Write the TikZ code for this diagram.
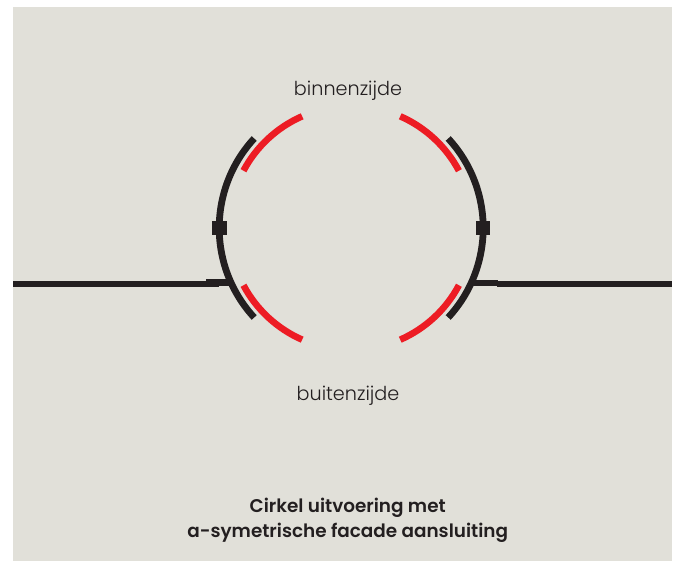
\documentclass[tikz,border=0pt]{standalone}
\usepackage{fontspec}
\setmainfont[BoldFont={Poppins SemiBold}]{Poppins Light}
\definecolor{bgc}{HTML}{E1E0D9}
\definecolor{inkc}{HTML}{231F20}
\definecolor{redc}{HTML}{ED1C24}
\tikzset{
  x=1pt,y=1pt,
  blackarc/.style={draw=inkc,line width=6.8pt},
  redarc/.style={draw=redc,line width=6.6pt},
  wall/.style={draw=inkc,line width=6.4pt},
  clip block/.style={fill=inkc,inner sep=0pt,minimum width=14.5pt,minimum height=14pt,draw=none},
  sidelabel/.style={text=inkc,font=\fontsize{19.2}{23}\selectfont,inner sep=0pt},
  titlelabel/.style={text=inkc,font=\bfseries\fontsize{18.4}{25}\selectfont,inner sep=0pt,align=center}
}
\begin{document}
\begin{tikzpicture}
\useasboundingbox (0,0) rectangle (678,561);
\fill[bgc] (13,0) rectangle (672,554);
\coordinate (c) at (351.2,333);
\draw[blackarc] (c) ++(137.3:132) arc (137.3:222.7:132);
\draw[blackarc] (c) ++(42.7:132) arc (42.7:-42.7:132);
\draw[redarc] (c) ++(113.7:122) arc (113.7:152:122);
\draw[redarc] (c) ++(66.3:122) arc (66.3:28:122);
\draw[redarc] (c) ++(208:122) arc (208:246.3:122);
\draw[redarc] (c) ++(-28:122) arc (-28:-66.3:122);
\node[clip block] (bl) at (219.5,332.5) {};
\node[clip block] (br) at (483,332.5) {};
\coordinate (wl0) at (13,276.7);
\coordinate (wl1) at (219,276.7);
\coordinate (wl2) at (206,278.3);
\coordinate (wl3) at (232,278.3);
\coordinate (wr0) at (473,278);
\coordinate (wr1) at (498,278);
\coordinate (wr2) at (497,277);
\coordinate (wr3) at (672,277);
\draw[wall] (wl0) -- (wl1);
\draw[wall] (wl2) -- (wl3);
\draw[wall] (wr0) -- (wr1);
\draw[wall] (wr2) -- (wr3);
\node[sidelabel] (binnen) at (348,470.5) {binnenzijde};
\node[sidelabel] (buiten) at (348,165.5) {buitenzijde};
\node[titlelabel] (title) at (347.7,41) {Cirkel uitvoering met\\a-symetrische facade aansluiting};
\end{tikzpicture}
\end{document}
